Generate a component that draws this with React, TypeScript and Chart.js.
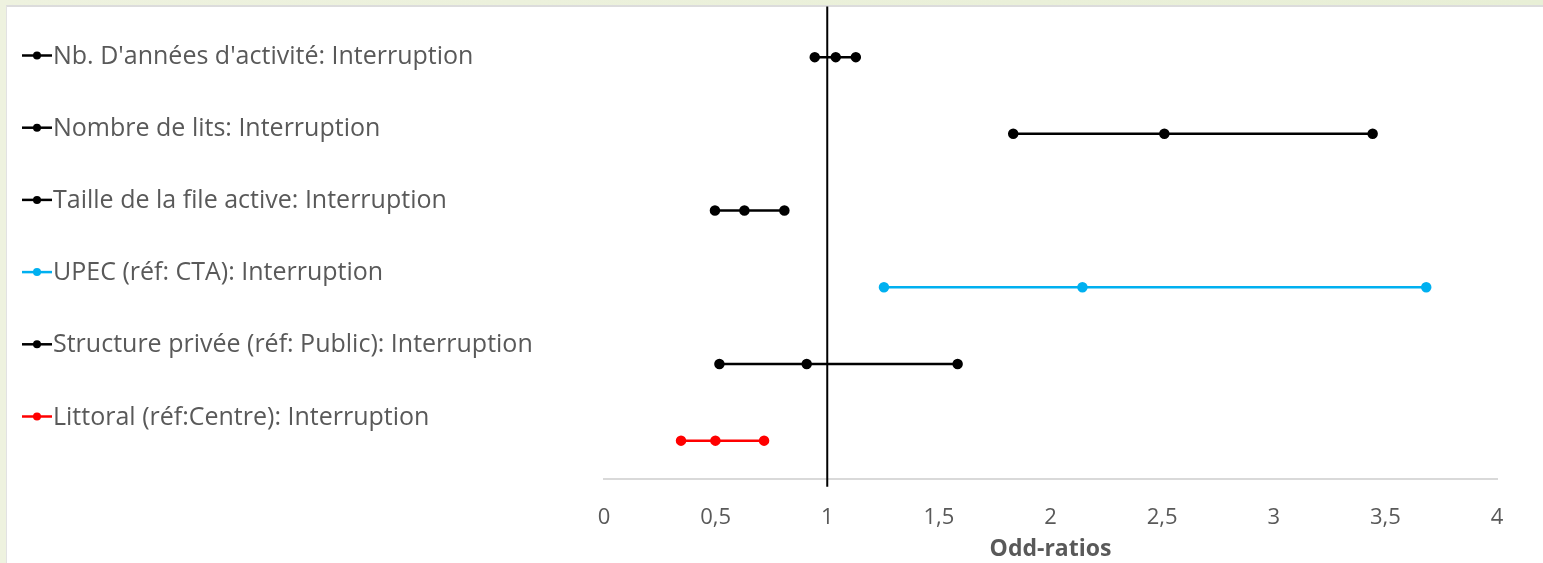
import React, { useEffect, useRef } from "react";
import { Chart, registerables } from "chart.js";

Chart.register(...registerables);

// Categories (top to bottom)
const categories = [
  "Nb. D'années d'activité: Interruption",
  "Nombre de lits: Interruption",
  "Taille de la file active: Interruption",
  "UPEC (réf: CTA): Interruption",
  "Structure privée (réf: Public): Interruption",
  "Littoral (réf:Centre): Interruption",
];
// Odds ratios: lower CI, estimate, upper CI
const lowerCI = [0.944, 1.833, 0.497, 1.254, 0.517, 0.345];
const oddsRatio = [1.038, 2.51, 0.629, 2.143, 0.908, 0.499];
const upperCI = [1.128, 3.443, 0.808, 3.683, 1.584, 0.717];
// row position on the hidden vertical axis
const rowY = [5.5, 4.5, 3.5, 2.5, 1.5, 0.5];
const seriesColors = ["#000000", "#000000", "#000000", "#00B0F0", "#000000", "#FF0000"];
// reference line at OR = 1
const refX = [1, 1];
const refY = [-0.1, 6.16];
const xTicks = [0, 0.5, 1, 1.5, 2, 2.5, 3, 3.5, 4];

const TEXT = "#595959";
const FONT = "'Open Sans', Lato, sans-serif";

const sideLegend = {
  id: "sideLegend",
  afterDraw(chart: any, _args: any, opts: any) {
    const ctx = chart.ctx;
    ctx.save();
    const items = chart.data.datasets.filter((d: any) => !d.isRef);
    items.forEach((ds: any, i: number) => {
      const cy = opts.y0 + i * opts.step;
      ctx.strokeStyle = ds.borderColor;
      ctx.fillStyle = ds.borderColor;
      ctx.lineWidth = 2.5;
      ctx.beginPath();
      ctx.moveTo(opts.x, cy);
      ctx.lineTo(opts.x + opts.lineLen, cy);
      ctx.stroke();
      ctx.beginPath();
      ctx.arc(opts.x + opts.lineLen / 2, cy, 4, 0, Math.PI * 2);
      ctx.fill();
      ctx.fillStyle = TEXT;
      ctx.font = `${opts.fontSize}px ${FONT}`;
      ctx.textBaseline = "middle";
      ctx.textAlign = "left";
      ctx.fillText(ds.label, opts.x + opts.lineLen + 1, cy + 1);
    });
    ctx.restore();
  },
};

export default function App() {
  const ref = useRef<HTMLCanvasElement | null>(null);
  useEffect(() => {
    if (!ref.current) return;
    const datasets: any[] = categories.map((label, i) => ({
      label,
      data: [
        { x: lowerCI[i], y: rowY[i] },
        { x: oddsRatio[i], y: rowY[i] },
        { x: upperCI[i], y: rowY[i] },
      ],
      borderColor: seriesColors[i],
      backgroundColor: seriesColors[i],
      pointBackgroundColor: seriesColors[i],
      pointBorderColor: seriesColors[i],
      borderWidth: 2.5,
      pointRadius: 4,
      pointHoverRadius: 4,
      showLine: true,
      fill: false,
    }));
    datasets.push({
      label: "",
      isRef: true,
      data: refX.map((x, i) => ({ x, y: refY[i] })),
      borderColor: "#000000",
      borderWidth: 2,
      pointRadius: 0,
      showLine: true,
      clip: false,
      fill: false,
    });
    const chart = new Chart(ref.current, {
      type: "scatter",
      data: { datasets },
      options: {
        animation: false,
        responsive: false,
        events: [],
        layout: { padding: { left: 604, right: 46, top: 5, bottom: 0 } },
        scales: {
          x: {
            type: "linear",
            min: 0,
            max: 4,
            afterBuildTicks: (s: any) => {
              s.ticks = xTicks.map((v) => ({ value: v }));
            },
            afterFit: (s: any) => {
              s.height = 84;
            },
            ticks: {
              color: TEXT,
              padding: 26,
              font: { family: FONT, size: 22 },
              callback: (v: any) => String(v).replace(".", ","),
            },
            grid: { display: false, drawTicks: false },
            border: { display: true, color: "#D9D9D9", width: 2 },
            title: {
              display: true,
              text: "Odd-ratios",
              color: TEXT,
              font: { family: FONT, size: 23, weight: "bold" },
              padding: { top: 4, bottom: 0 },
            },
          },
          y: {
            type: "linear",
            display: false,
            min: 0,
            max: 6.16,
          },
        },
        plugins: {
          legend: { display: false },
          tooltip: { enabled: false },
          sideLegend: { x: 22, lineLen: 30, y0: 55.5, step: 72.2, fontSize: 25 },
        } as any,
      },
      plugins: [sideLegend],
    } as any);
    return () => chart.destroy();
  }, []);

  return (
    <div style={{ position: "absolute", left: 0, top: 0, width: 1543, height: 563, background: "linear-gradient(90deg,#eef2df,#e8efd6)", overflow: "hidden" }}>
      <div style={{ position: "absolute", left: 6, top: 5, right: 0, bottom: 0, background: "#ffffff", borderTop: "2px solid #dcdcdc", borderLeft: "1px solid #e2e2e2" }} />
      <canvas ref={ref} width={1543} height={563} style={{ position: "absolute", left: 0, top: 0, width: 1543, height: 563 }} />
    </div>
  );
}
